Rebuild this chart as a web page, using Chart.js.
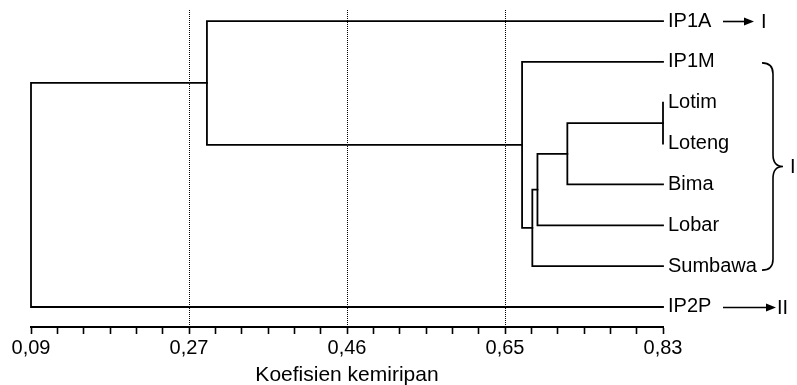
<!DOCTYPE html>
<html><head><meta charset="utf-8">
<style>html,body{margin:0;padding:0;background:#fff;} canvas{display:block;}</style>
<script src="https://cdn.jsdelivr.net/npm/chart.js@4.4.1/dist/chart.umd.min.js"></script>
</head><body>
<canvas id="c" width="797" height="385"></canvas>
<script>
// ---- data ----
const LEAVES = ['IP1A', 'IP1M', 'Lotim', 'Loteng', 'Bima', 'Lobar', 'Sumbawa', 'IP2P'];
// each merge joins child A and child B (0-7 = leaves, 8+ = earlier merges) at a similarity level
const MERGE_A = [2, 4, 5, 6, 1, 0, 7];
const MERGE_B = [3, 8, 9, 10, 11, 12, 13];
const MERGE_LEVEL = [0.83, 0.718, 0.683, 0.677, 0.665, 0.296, 0.09];
const TICK_VALUES = [0.09, 0.275, 0.46, 0.645, 0.83];
const TICK_LABELS = ['0,09', '0,27', '0,46', '0,65', '0,83'];
const MINOR_PER_MAJOR = 6;
const ARROW_LEAVES = ['IP1A', 'IP2P'];
const ARROW_GROUPS = ['I', 'II'];
const BRACE_LEAVES = ['IP1M', 'Sumbawa'];
const BRACE_GROUP = 'I';
const AXIS_TITLE = 'Koefisien kemiripan';

// ---- build dendrogram segments ----
const XMIN = TICK_VALUES[0], XMAX = TICK_VALUES[TICK_VALUES.length - 1];
const nodeY = LEAVES.map((_, i) => i);
const nodeX = LEAVES.map(() => XMAX);
MERGE_A.forEach((a, k) => {
  const b = MERGE_B[k];
  nodeY.push((nodeY[a] + nodeY[b]) / 2);
  nodeX.push(MERGE_LEVEL[k]);
});
const datasets = MERGE_A.map((a, k) => {
  const b = MERGE_B[k], m = MERGE_LEVEL[k];
  return {
    data: [
      { x: nodeX[a], y: nodeY[a] }, { x: m, y: nodeY[a] },
      { x: m, y: nodeY[b] }, { x: nodeX[b], y: nodeY[b] }
    ],
    showLine: true, borderColor: '#000', borderWidth: 1.8, pointRadius: 0,
    tension: 0, clip: 6, borderCapStyle: 'square', borderJoinStyle: 'miter'
  };
});

const xTicks = [];
for (let i = 0; i < TICK_VALUES.length - 1; i++) {
  for (let j = 0; j < MINOR_PER_MAJOR; j++) {
    xTicks.push(TICK_VALUES[i] + (TICK_VALUES[i + 1] - TICK_VALUES[i]) * j / MINOR_PER_MAJOR);
  }
}
xTicks.push(XMAX);

const FONT = '"Liberation Sans", Arial, Helvetica, sans-serif';
Chart.defaults.font.family = FONT;
Chart.defaults.font.size = 20;
Chart.defaults.color = '#000';

const groupPlugin = {
  id: 'groups',
  afterDraw(chart) {
    const { ctx, chartArea, scales: { y } } = chart;
    const R = chartArea.right;
    ctx.save();
    ctx.strokeStyle = '#000'; ctx.fillStyle = '#000'; ctx.lineWidth = 1.6;
    ctx.font = '20px ' + FONT;
    ctx.textBaseline = 'middle'; ctx.textAlign = 'left';
    const tips = [91, 113], textGap = [7, 1];
    ARROW_LEAVES.forEach((leaf, k) => {
      const py = Math.round(y.getPixelForValue(LEAVES.indexOf(leaf))) + 0.5;
      const x0 = R + 60, x1 = R + tips[k];
      ctx.beginPath(); ctx.moveTo(x0, py); ctx.lineTo(x1 - 8, py); ctx.stroke();
      ctx.beginPath(); ctx.moveTo(x1, py); ctx.lineTo(x1 - 10, py - 4); ctx.lineTo(x1 - 10, py + 4); ctx.closePath(); ctx.fill();
      ctx.fillText(ARROW_GROUPS[k], x1 + textGap[k], py + 1);
    });
    // brace
    const yTop = y.getPixelForValue(LEAVES.indexOf(BRACE_LEAVES[0])) + 1;
    const yBot = y.getPixelForValue(LEAVES.indexOf(BRACE_LEAVES[1])) + 4;
    const yMid = (yTop + yBot) / 2;
    const xe = R + 99, xv = R + 110, xt = R + 120;
    ctx.beginPath();
    ctx.moveTo(xe, yTop);
    ctx.quadraticCurveTo(xv, yTop, xv, yTop + 11);
    ctx.lineTo(xv, yMid - 12);
    ctx.quadraticCurveTo(xv, yMid, xt, yMid);
    ctx.quadraticCurveTo(xv, yMid, xv, yMid + 12);
    ctx.lineTo(xv, yBot - 11);
    ctx.quadraticCurveTo(xv, yBot, xe, yBot);
    ctx.stroke();
    ctx.fillText(BRACE_GROUP, R + 127, yMid + 1);
    ctx.restore();
  }
};

new Chart(document.getElementById('c'), {
  type: 'scatter',
  data: { datasets },
  plugins: [groupPlugin],
  options: {
    responsive: false, animation: false, devicePixelRatio: 1,
    layout: { padding: { top: 10, left: 31, right: 0, bottom: 0 } },
    plugins: { legend: { display: false }, tooltip: { enabled: false } },
    scales: {
      x: {
        type: 'linear', position: 'bottom', min: XMIN, max: XMAX,
        afterBuildTicks: s => { s.ticks = xTicks.map(v => ({ value: v })); },
        afterFit: s => { s.height = 58; },
        ticks: {
          autoSkip: false, maxRotation: 0, padding: 2, color: '#000', font: { size: 20 },
          callback: (v, i) => (i % MINOR_PER_MAJOR === 0 ? TICK_LABELS[i / MINOR_PER_MAJOR] : '')
        },
        grid: {
          drawOnChartArea: true, drawTicks: true, tickLength: 7,
          color: c => (c.index % MINOR_PER_MAJOR === 0 && c.index !== 0 && c.index !== xTicks.length - 1) ? '#000' : 'rgba(0,0,0,0)',
          lineWidth: 1, tickColor: '#000', tickWidth: 1.6, tickBorderDash: []
        },
        border: { display: true, color: '#000', width: 2, dash: [1, 1] },
        title: { display: true, text: AXIS_TITLE, color: '#000', font: { size: 21 }, padding: { top: 0, bottom: -3 } }
      },
      y: {
        type: 'linear', position: 'right', reverse: true, min: -0.27, max: 7.49,
        afterBuildTicks: s => { s.ticks = LEAVES.map((_, i) => ({ value: i })); },
        afterFit: s => { s.width = 797 - 663; s.paddingTop = 0; s.paddingBottom = 0; },
        ticks: { padding: 5, color: '#000', font: { size: 20 }, callback: v => LEAVES[v] },
        grid: { display: false, drawTicks: false },
        border: { display: false }
      }
    }
  }
});
</script>
</body></html>
